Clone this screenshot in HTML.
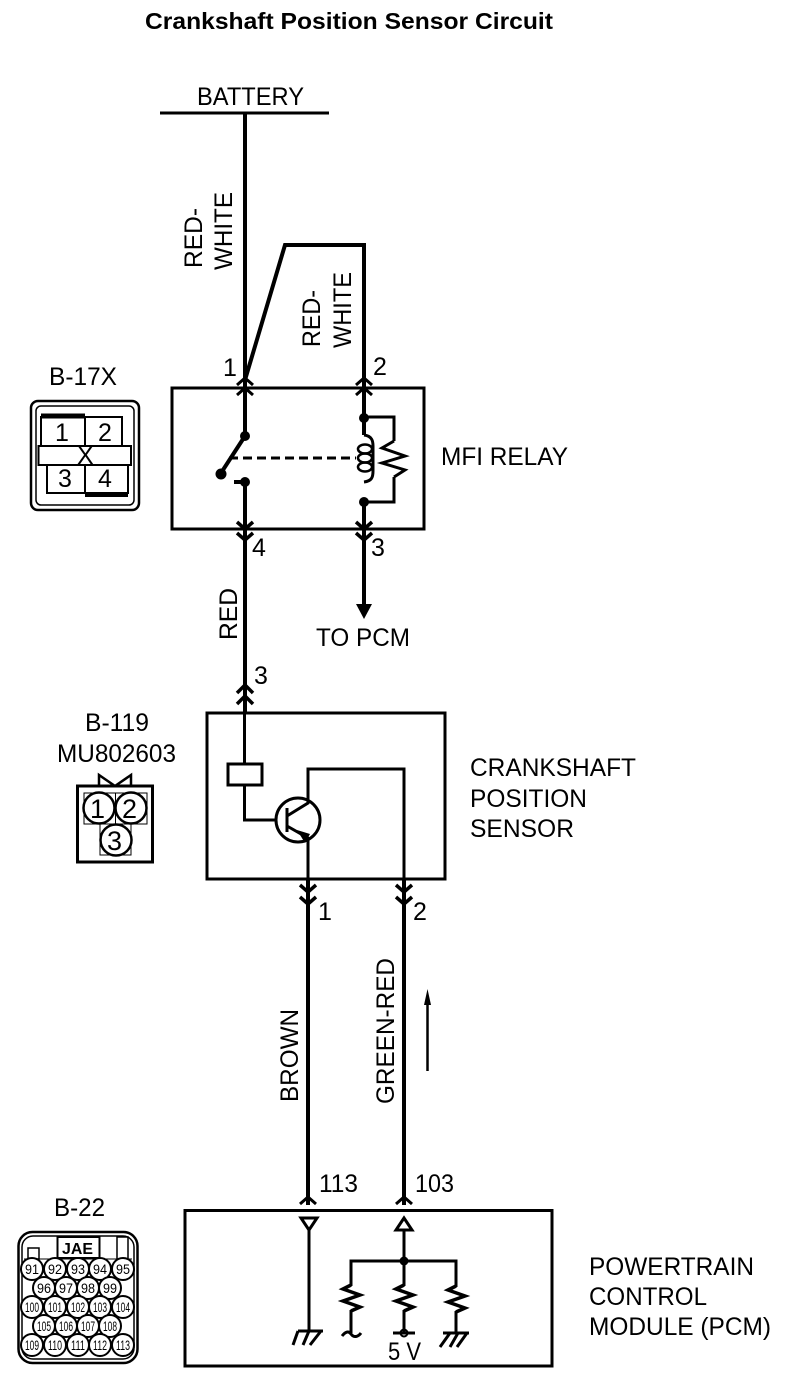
<!DOCTYPE html>
<html><head><meta charset="utf-8"><style>
html,body{margin:0;padding:0;background:#fff}
svg{display:block}
text{font-family:"Liberation Sans",sans-serif;font-size:25px;fill:#000}
.t{font-weight:bold}
</style></head><body>
<svg width="800" height="1378" viewBox="0 0 800 1378" xmlns="http://www.w3.org/2000/svg">
<rect width="800" height="1378" fill="#fff"/>
<text x="145" y="29" class="t" style="font-size:23.500px" textLength="408" lengthAdjust="spacingAndGlyphs">Crankshaft Position Sensor Circuit</text>
<text x="197" y="105" textLength="107" lengthAdjust="spacingAndGlyphs">BATTERY</text>
<g fill="none" stroke="#000" stroke-width="4">
<path d="M160 113H329" stroke-width="3"/>
<path d="M245 113V388"/>
<path d="M245 380L285 245H364V388"/>
<path d="M237 385L245 378L253 385M237 395L245 388L253 395M356 385L364 378L372 385M356 395L364 388L372 395" stroke-width="3"/>
<rect x="172" y="388" width="252" height="141" stroke-width="3"/>
<path d="M245 388V436M245 436L221 473M245 482H234M245 482V713M364 388V435M364 502V605"/>
<path d="M229 458H356" stroke-dasharray="9 5" stroke-width="3"/>
<path d="M364 417H394V441M364 502H394V477M394 441L382 448L405 456L382 463L405 470L394 477" stroke-width="3"/>
<path d="M364 435C372 436 373 441 373 446V471C373 477 372 481 364 482" stroke-width="3"/>
<g stroke-width="2.500"><ellipse cx="365" cy="449" rx="7" ry="4.500"/><ellipse cx="365" cy="458" rx="7" ry="4.500"/><ellipse cx="365" cy="467" rx="7" ry="4.500"/></g>
<path d="M237 522L245 529L253 522M237 533L245 540L253 533M356 522L364 529L372 522M356 533L364 540L372 533" stroke-width="3.500"/>
<path d="M237 693L245 685L253 693M237 704L245 696L253 704" stroke-width="3.500"/>
</g>
<g fill="#000">
<circle cx="245" cy="436" r="5"/><circle cx="221" cy="474" r="5.500"/><circle cx="245" cy="482" r="5"/><circle cx="364" cy="418" r="5"/><circle cx="364" cy="502" r="5"/>
<path d="M356 604H372L364 619Z"/>
</g>
<text x="223" y="376">1</text><text x="373" y="375">2</text><text x="252" y="556">4</text><text x="371" y="556">3</text><text x="254" y="684">3</text>
<text x="441" y="465" textLength="127" lengthAdjust="spacingAndGlyphs">MFI RELAY</text>
<text x="316" y="646" textLength="94" lengthAdjust="spacingAndGlyphs">TO PCM</text>
<text transform="translate(202 268) rotate(-90)" textLength="60" lengthAdjust="spacingAndGlyphs">RED-</text>
<text transform="translate(232 270) rotate(-90)" textLength="78" lengthAdjust="spacingAndGlyphs">WHITE</text>
<text transform="translate(320 347) rotate(-90)" textLength="57" lengthAdjust="spacingAndGlyphs">RED-</text>
<text transform="translate(351 348) rotate(-90)" textLength="76" lengthAdjust="spacingAndGlyphs">WHITE</text>
<text transform="translate(237 640) rotate(-90)" textLength="52" lengthAdjust="spacingAndGlyphs">RED</text>
<text transform="translate(298 1102) rotate(-90)" textLength="93" lengthAdjust="spacingAndGlyphs">BROWN</text>
<text transform="translate(394 1104) rotate(-90)" textLength="146" lengthAdjust="spacingAndGlyphs">GREEN-RED</text>

<!-- B-17X -->
<text x="49" y="385" textLength="68" lengthAdjust="spacingAndGlyphs">B-17X</text>
<g fill="none" stroke="#000">
<rect x="31" y="401" width="108" height="109" rx="7" stroke-width="2.500"/>
<rect x="36" y="406" width="98" height="99" rx="5" stroke-width="1.500"/>
<rect x="41" y="417" width="81" height="29" stroke-width="2"/>
<path d="M85 417V446M85 465V493" stroke-width="2"/>
<rect x="47" y="465" width="81" height="28" stroke-width="2"/>
<rect x="38.500" y="446" width="92.500" height="19" stroke-width="2" fill="#fff"/>
<path d="M41 416H85M85 494.500H128" stroke-width="5"/>
</g>
<text x="55" y="441">1</text><text x="98" y="441">2</text><text x="77" y="464">X</text><text x="58" y="487">3</text><text x="98" y="487">4</text>

<!-- Sensor -->
<g fill="none" stroke="#000" stroke-width="3">
<rect x="207" y="713" width="238" height="166"/>
<path d="M244.500 713V764"/>
<rect x="228" y="764" width="34" height="21" fill="#fff"/>
<path d="M244.500 785V820H277M287 808V832M287 816L308 803V769H404V890M287 826L308 838V890"/>
<circle cx="298" cy="820" r="22"/>
<path d="M300 885L308 892L316 885M300 897L308 904L316 897M396 885L404 892L412 885M396 897L404 904L412 897" stroke-width="3.500"/>
</g>
<path d="M297 830L310 834L305 843Z" fill="#000"/>
<path d="M308 880V1205M404 880V1205" stroke="#000" stroke-width="4"/>
<text x="318" y="920">1</text><text x="413" y="920">2</text>
<text x="470" y="776" textLength="166" lengthAdjust="spacingAndGlyphs">CRANKSHAFT</text>
<text x="470" y="807" textLength="117" lengthAdjust="spacingAndGlyphs">POSITION</text>
<text x="470" y="837" textLength="104" lengthAdjust="spacingAndGlyphs">SENSOR</text>

<!-- B-119 -->
<text x="85" y="731" textLength="64" lengthAdjust="spacingAndGlyphs">B-119</text>
<text x="57" y="762" textLength="119" lengthAdjust="spacingAndGlyphs">MU802603</text>
<g fill="none" stroke="#000">
<path d="M99 786V775L115 786L131 775V786" stroke-width="2.500"/>
<rect x="77.500" y="786" width="75" height="76" stroke-width="3"/>
<path d="M84 793H147V824H84ZM115.500 793V824M100 824V855H131V824" stroke-width="1"/>
<g stroke-width="2.500" fill="none"><circle cx="99" cy="808" r="15.500"/><circle cx="131" cy="808" r="15.500"/><circle cx="116" cy="840" r="15.500"/></g>
</g>
<text x="90" y="818" style="font-size:27px">1</text><text x="122" y="818" style="font-size:27px">2</text><text x="107" y="850" style="font-size:27px">3</text>

<!-- Arrow -->
<path d="M427.500 1005V1071" stroke="#000" stroke-width="2.500"/>
<path d="M427.500 989L431 1005H424Z" fill="#000"/>

<!-- PCM -->
<text x="319" y="1192" textLength="39" lengthAdjust="spacingAndGlyphs">113</text>
<text x="415" y="1192" textLength="39" lengthAdjust="spacingAndGlyphs">103</text>
<g fill="none" stroke="#000" stroke-width="3">
<path d="M300 1204L308 1197L316 1204M396 1204L404 1197L412 1204"/>
<rect x="185" y="1210.500" width="367" height="155.500"/>
<path d="M301 1218H317L309 1230ZM404 1218L396 1230H412Z"/>
<path d="M309 1230V1331M404 1230V1333M351 1333V1261H456V1333"/>
<path d="M298 1331H323M298 1331L293 1345M309 1331L303 1345M321 1331L310 1345" stroke-width="3"/>
<path d="M443 1333H469M450 1333L440 1347M458 1333L450 1347M467 1333L457 1347" stroke-width="3"/>
<path d="M342 1336C346 1331 349 1331 351 1334C354 1338 358 1337 361 1333"/>
<path d="M393 1333H415"/>
<circle cx="404" cy="1333" r="3.500" stroke-width="2"/>
</g>
<g fill="#fff" stroke="#fff" stroke-width="5">
<path d="M351 1286V1310M404 1286V1310M456 1287V1311"/>
</g>
<g fill="none" stroke="#000" stroke-width="3.500">
<path d="M351 1285L343 1289L360 1295L343 1301L360 1307L351 1311"/>
<path d="M404 1285L396 1289L413 1295L396 1301L413 1307L404 1311"/>
<path d="M456 1286L448 1290L465 1296L448 1302L465 1308L456 1312"/>
</g>
<circle cx="404" cy="1261" r="4.500" fill="#000"/>
<text x="388" y="1360" textLength="33" lengthAdjust="spacingAndGlyphs">5 V</text>
<text x="589" y="1275" textLength="165" lengthAdjust="spacingAndGlyphs">POWERTRAIN</text>
<text x="589" y="1305" textLength="118" lengthAdjust="spacingAndGlyphs">CONTROL</text>
<text x="589" y="1335" textLength="182" lengthAdjust="spacingAndGlyphs">MODULE (PCM)</text>

<!-- B-22 -->
<text x="54" y="1216" textLength="51" lengthAdjust="spacingAndGlyphs">B-22</text>
<g fill="none" stroke="#000">
<rect x="18.500" y="1232" width="119" height="131" rx="14" stroke-width="2.500"/>
<rect x="22" y="1236" width="112" height="123" rx="11" stroke-width="1.500"/>
<rect x="28" y="1248" width="11" height="11" stroke-width="1.500"/>
<rect x="57.500" y="1237" width="42" height="21" stroke-width="2"/>
<rect x="117" y="1237" width="11" height="22" stroke-width="1.500"/>
<path d="M24 1259H132" stroke-width="1"/>
<g stroke-width="2" fill="#fff">
<circle cx="32" cy="1269" r="11"/><circle cx="55" cy="1269" r="11"/><circle cx="78" cy="1269" r="11"/><circle cx="100" cy="1269" r="11"/><circle cx="123" cy="1269" r="11"/>
<circle cx="44" cy="1288" r="11"/><circle cx="66" cy="1288" r="11"/><circle cx="88" cy="1288" r="11"/><circle cx="110" cy="1288" r="11"/>
<circle cx="32" cy="1307" r="11"/><circle cx="55" cy="1307" r="11"/><circle cx="78" cy="1307" r="11"/><circle cx="100" cy="1307" r="11"/><circle cx="123" cy="1307" r="11"/>
<circle cx="44" cy="1326" r="11"/><circle cx="66" cy="1326" r="11"/><circle cx="88" cy="1326" r="11"/><circle cx="110" cy="1326" r="11"/>
<circle cx="32" cy="1345" r="11"/><circle cx="55" cy="1345" r="11"/><circle cx="78" cy="1345" r="11"/><circle cx="100" cy="1345" r="11"/><circle cx="123" cy="1345" r="11"/>
</g>
</g>
<text x="62" y="1254" style="font-size:16px" class="t" textLength="31" lengthAdjust="spacingAndGlyphs">JAE</text>
<g style="font-size:14px" text-anchor="middle">
<text x="32" y="1274" style="font-size:14px" textLength="14" lengthAdjust="spacingAndGlyphs">91</text><text x="55" y="1274" style="font-size:14px" textLength="14" lengthAdjust="spacingAndGlyphs">92</text><text x="78" y="1274" style="font-size:14px" textLength="14" lengthAdjust="spacingAndGlyphs">93</text><text x="100" y="1274" style="font-size:14px" textLength="14" lengthAdjust="spacingAndGlyphs">94</text><text x="123" y="1274" style="font-size:14px" textLength="14" lengthAdjust="spacingAndGlyphs">95</text>
<text x="44" y="1293" style="font-size:14px" textLength="14" lengthAdjust="spacingAndGlyphs">96</text><text x="66" y="1293" style="font-size:14px" textLength="14" lengthAdjust="spacingAndGlyphs">97</text><text x="88" y="1293" style="font-size:14px" textLength="14" lengthAdjust="spacingAndGlyphs">98</text><text x="110" y="1293" style="font-size:14px" textLength="14" lengthAdjust="spacingAndGlyphs">99</text>
<text x="32" y="1312" style="font-size:14px" textLength="14" lengthAdjust="spacingAndGlyphs">100</text><text x="55" y="1312" style="font-size:14px" textLength="14" lengthAdjust="spacingAndGlyphs">101</text><text x="78" y="1312" style="font-size:14px" textLength="14" lengthAdjust="spacingAndGlyphs">102</text><text x="100" y="1312" style="font-size:14px" textLength="14" lengthAdjust="spacingAndGlyphs">103</text><text x="123" y="1312" style="font-size:14px" textLength="14" lengthAdjust="spacingAndGlyphs">104</text>
<text x="44" y="1331" style="font-size:14px" textLength="14" lengthAdjust="spacingAndGlyphs">105</text><text x="66" y="1331" style="font-size:14px" textLength="14" lengthAdjust="spacingAndGlyphs">106</text><text x="88" y="1331" style="font-size:14px" textLength="14" lengthAdjust="spacingAndGlyphs">107</text><text x="110" y="1331" style="font-size:14px" textLength="14" lengthAdjust="spacingAndGlyphs">108</text>
<text x="32" y="1350" style="font-size:14px" textLength="14" lengthAdjust="spacingAndGlyphs">109</text><text x="55" y="1350" style="font-size:14px" textLength="14" lengthAdjust="spacingAndGlyphs">110</text><text x="78" y="1350" style="font-size:14px" textLength="14" lengthAdjust="spacingAndGlyphs">111</text><text x="100" y="1350" style="font-size:14px" textLength="14" lengthAdjust="spacingAndGlyphs">112</text><text x="123" y="1350" style="font-size:14px" textLength="14" lengthAdjust="spacingAndGlyphs">113</text>
</g>
</svg>
</body></html>
